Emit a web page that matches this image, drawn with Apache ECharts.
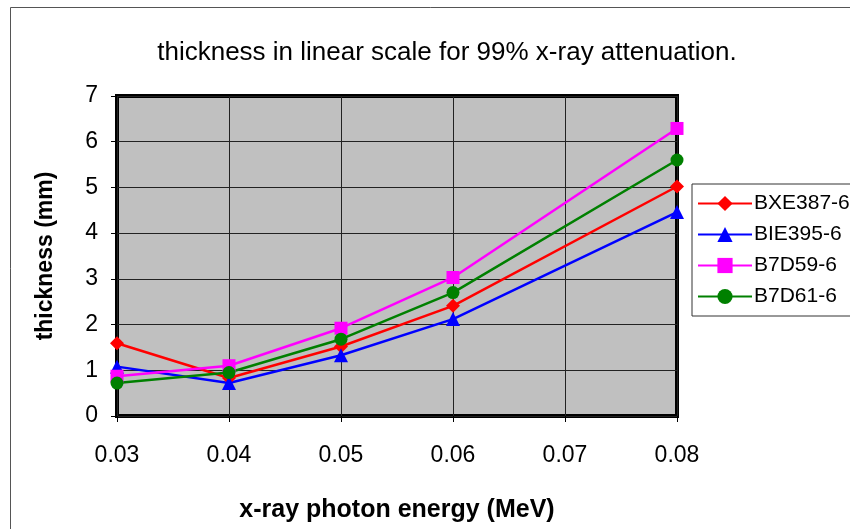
<!DOCTYPE html>
<html><head><meta charset="utf-8">
<script src="https://cdn.jsdelivr.net/npm/echarts@6/dist/echarts.min.js"></script>
<style>html,body{margin:0;padding:0;background:#fff}#c{width:850px;height:529px}</style>
</head><body><div id="c"></div>
<script>
const energies = [0.03, 0.04, 0.05, 0.06, 0.08];
const seriesNames = ['BXE387-6', 'BIE395-6', 'B7D59-6', 'B7D61-6'];
const bxe387 = [1.59, 0.83, 1.52, 2.41, 5.02];
const bie395 = [1.08, 0.72, 1.33, 2.12, 4.46];
const b7d59 = [0.87, 1.10, 1.92, 3.03, 6.29];
const b7d61 = [0.72, 0.95, 1.68, 2.70, 5.60];
const yTicks = [0, 1, 2, 3, 4, 5, 6, 7];

const colors = ['#ff0000', '#0000ff', '#ff00ff', '#008000'];
const symbols = ['diamond', 'triangle', 'rect', 'circle'];
const sizes = [14, 14, 13, 13];
const values = [bxe387, bie395, b7d59, b7d61];

const chart = echarts.init(document.getElementById('c'));
const font = 'Liberation Sans, Arial, sans-serif';
chart.setOption({
  animation: false,
  backgroundColor: '#fff',
  title: {
    text: 'thickness in linear scale for 99% x-ray attenuation.',
    left: 442, top: 35, textAlign: 'center',
    textStyle: {fontFamily: font, fontSize: 26, fontWeight: 'normal', color: '#000'}
  },
  graphic: [{
    type: 'rect', shape: {x: 10.5, y: 7.5, width: 860, height: 540},
    style: {fill: 'none', stroke: '#555', lineWidth: 1}, silent: true, z: -1
  }],
  grid: {
    left: 117, top: 96, right: 173, bottom: 113,
    show: true, backgroundColor: '#c0c0c0', borderColor: '#000', borderWidth: 4
  },
  legend: {
    orient: 'vertical', left: 692, top: 184,
    data: seriesNames.map((n, i) => ({name: n, itemStyle: {color: colors[i]}})),
    itemWidth: 54, itemHeight: 19, itemGap: 10,
    padding: [9, 40, 9, 5],
    borderColor: '#333', borderWidth: 1,
    textStyle: {fontFamily: font, fontSize: 21, color: '#000', padding: [0, 0, 0, -3]}
  },
  xAxis: {
    type: 'value', min: 0.03, max: 0.08, interval: 0.01,
    name: 'x-ray photon energy (MeV)', nameLocation: 'middle', nameGap: 82,
    nameTextStyle: {fontFamily: font, fontSize: 25, fontWeight: 'bold', color: '#000'},
    axisLine: {show: false},
    axisTick: {show: true, inside: false, length: 6, lineStyle: {color: '#000'}},
    axisLabel: {fontFamily: font, fontSize: 23, color: '#000', margin: 28,
      formatter: v => v.toFixed(2)},
    splitLine: {show: true, lineStyle: {color: '#222', width: 1}}
  },
  yAxis: {
    type: 'value', min: 0, max: 7, interval: 1,
    name: 'thickness (mm)', nameLocation: 'middle', nameGap: 60,
    nameTextStyle: {fontFamily: font, fontSize: 23, fontWeight: 'bold', color: '#000'},
    axisLine: {show: false},
    axisTick: {show: true, inside: false, length: 6, lineStyle: {color: '#000'}},
    axisLabel: {fontFamily: font, fontSize: 23, color: '#000', margin: 19,
      formatter: v => yTicks.includes(v) ? String(v) : ''},
    splitLine: {show: true, lineStyle: {color: '#222', width: 1}}
  },
  series: seriesNames.map((n, i) => ({
    name: n, type: 'line',
    data: energies.map((e, j) => [e, values[i][j]]),
    symbol: symbols[i], symbolSize: sizes[i], showSymbol: true,
    lineStyle: {color: colors[i], width: 2.5},
    itemStyle: {color: colors[i], borderWidth: 0},
    clip: false
  }))
});
</script></body></html>
